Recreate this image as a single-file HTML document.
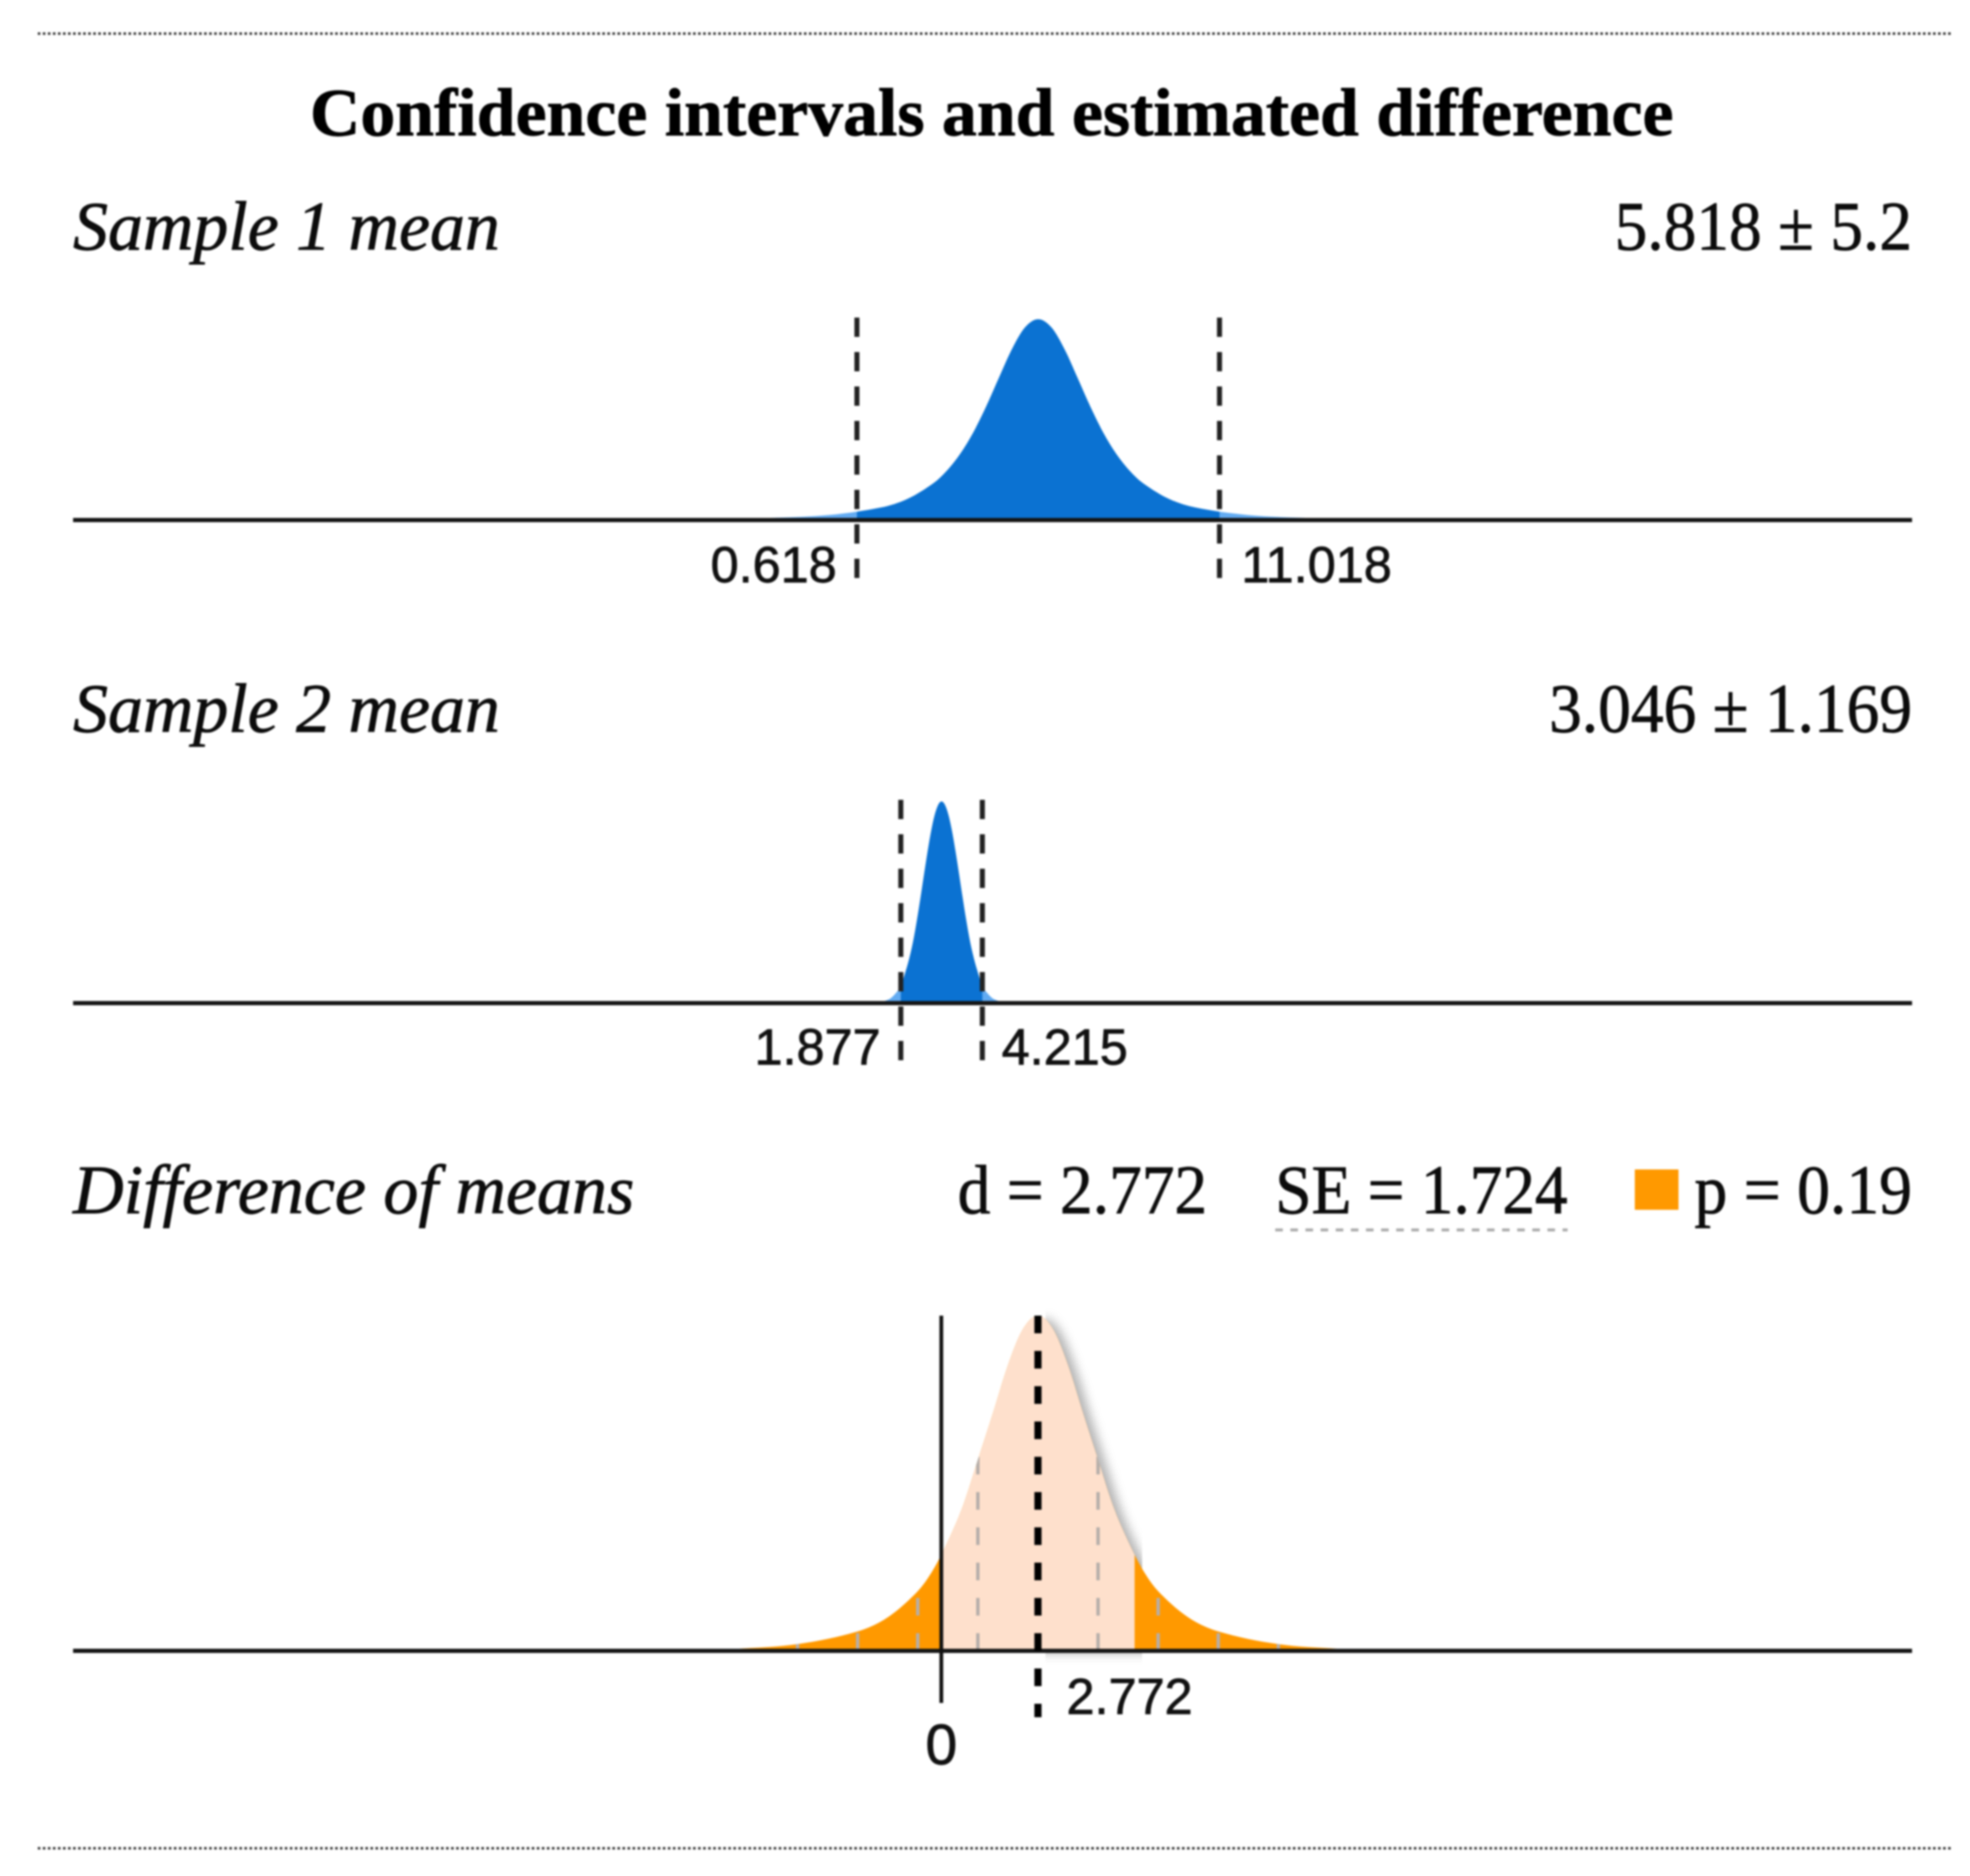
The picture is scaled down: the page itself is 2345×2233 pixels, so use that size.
<!DOCTYPE html>
<html lang="en">
<head>
<meta charset="utf-8">
<title>Confidence intervals and estimated difference</title>
<style>
html,body{margin:0;padding:0;background:#fff;width:2345px;height:2233px;overflow:hidden}
svg{display:block;filter:blur(1px)}
.serif{font-family:"Liberation Serif",serif;font-size:83px;fill:#0c0c0c;stroke:#0c0c0c;stroke-width:0.9px}
.ital{font-style:italic}
.sans{font-family:"Liberation Sans",sans-serif;font-size:60px;fill:#111;stroke:#111;stroke-width:0.9px}
</style>
</head>
<body>
<svg id="chart" xmlns="http://www.w3.org/2000/svg" width="2345" height="2233" viewBox="0 0 2345 2233">
  <defs>
    <filter id="soft-shadow" x="-20%" y="-20%" width="140%" height="140%"><feGaussianBlur stdDeviation="6"/></filter>
  </defs>
  <rect width="2345" height="2233" fill="#fff"/>
  <line x1="45" x2="2322" y1="40" y2="40" stroke="#333" stroke-width="3" stroke-dasharray="3 3"/>
  <line x1="45" x2="2322" y1="2200" y2="2200" stroke="#333" stroke-width="3" stroke-dasharray="3 3"/>

  <text class="serif" x="369" y="161" style="font-size:81px;font-weight:bold;fill:#000;stroke:#000" textLength="1623" lengthAdjust="spacingAndGlyphs">Confidence intervals and estimated difference</text>

  <text class="serif ital" x="87" y="297" textLength="508" lengthAdjust="spacingAndGlyphs">Sample 1 mean</text>
  <text class="serif" x="1922" y="297" textLength="354" lengthAdjust="spacingAndGlyphs">5.818 ± 5.2</text>

  <text class="serif ital" x="87" y="871" textLength="508" lengthAdjust="spacingAndGlyphs">Sample 2 mean</text>
  <text class="serif" x="1844" y="871" textLength="432" lengthAdjust="spacingAndGlyphs">3.046 ± 1.169</text>

  <text class="serif ital" x="87" y="1444" textLength="668" lengthAdjust="spacingAndGlyphs">Difference of means</text>
  <text class="serif" x="1140" y="1444" textLength="297" lengthAdjust="spacingAndGlyphs">d = 2.772</text>
  <text class="serif" x="1518" y="1444" textLength="348" lengthAdjust="spacingAndGlyphs">SE = 1.724</text>
  <line x1="1518" x2="1866" y1="1464" y2="1464" stroke="#aaa" stroke-width="3.5" stroke-dasharray="9 9"/>
  <rect x="1946" y="1392" width="52" height="48" fill="#ff9900"/>
  <text class="serif" x="2017" y="1444" textLength="259" lengthAdjust="spacingAndGlyphs">p = 0.19</text>

  <g id="marks"></g>
</svg>
<script>
// ----- chart data (value units; density is a fraction of each curve's peak) -----
const sample1Mean = [5.818];
const sample1Ci = [0.618, 11.018];
const sample1Labels = ['0.618', '11.018'];
const sample1Offsets = [0, 0.375, 0.75, 1.125, 1.5, 1.875, 2.25, 2.625, 3, 3.75, 4.5, 6, 7.5, 9, 10.5];
const sample1Density = [1, 0.96, 0.852, 0.709, 0.5625, 0.432, 0.3265, 0.245, 0.184, 0.105, 0.0625, 0.025, 0.0115, 0.006, 0.003];

const sample2Mean = [3.046];
const sample2Ci = [1.877, 4.215];
const sample2Labels = ['1.877', '4.215'];
const sample2Offsets = [0, 0.1, 0.2, 0.3, 0.4, 0.5, 0.6, 0.7, 0.8, 0.9, 1, 1.169, 1.3, 1.5, 1.9];
const sample2Density = [1, 0.982, 0.931, 0.852, 0.752, 0.641, 0.527, 0.418, 0.32, 0.24, 0.175, 0.085, 0.052, 0.02, 0];

const differenceMean = [2.772];
const differenceSe = [1.724];
const differenceLabels = ['2.772', '0'];
const seMultiples = [-4, -3, -2, -1, 1, 2, 3, 4];
const differenceOffsets = [0, 0.431, 0.862, 1.293, 1.724, 2.155, 2.586, 3.017, 3.448, 4.31, 5.172, 6.896, 8.62, 9.8];
const differenceDensity = [1, 0.96, 0.852, 0.709, 0.57, 0.432, 0.3265, 0.24, 0.178, 0.1, 0.058, 0.02, 0.006, 0];

// ----- axis functions -----
const PX_PER_UNIT = 41.5;
const sampleZero = 994.4;
const differenceZero = 1120.5;
const xSample = v => sampleZero + v * PX_PER_UNIT;
const xDifference = v => differenceZero + v * PX_PER_UNIT;
const yScale = (density, base, height) => base - density * height;

const NS = 'http://www.w3.org/2000/svg';
const marks = document.getElementById('marks');
const defs = document.querySelector('defs');

function make(tag, attrs, parent) {
  const el = document.createElementNS(NS, tag);
  for (const k in attrs) el.setAttribute(k, attrs[k]);
  (parent || marks).appendChild(el);
  return el;
}

function curvePoints(mean, offsets, density, xFn, base, height) {
  const pts = [];
  for (let i = offsets.length - 1; i > 0; i--) pts.push([xFn(mean - offsets[i]), yScale(density[i], base, height)]);
  for (let i = 0; i < offsets.length; i++) pts.push([xFn(mean + offsets[i]), yScale(density[i], base, height)]);
  return pts;
}

// Smooth Hermite path with slopes that respect uneven point spacing.
function curvePath(pts, base) {
  const n = pts.length;
  const slope = i => {
    const a = pts[Math.max(i - 1, 0)], b = pts[Math.min(i + 1, n - 1)];
    return (b[1] - a[1]) / (b[0] - a[0]);
  };
  let d = 'M' + pts[0][0] + ' ' + base + 'L' + pts[0][0] + ' ' + pts[0][1];
  for (let i = 0; i < n - 1; i++) {
    const p1 = pts[i], p2 = pts[i + 1], h = (p2[0] - p1[0]) / 3;
    d += 'C' + (p1[0] + h).toFixed(2) + ' ' + (p1[1] + slope(i) * h).toFixed(2) + ' ' +
      (p2[0] - h).toFixed(2) + ' ' + (p2[1] - slope(i + 1) * h).toFixed(2) + ' ' +
      p2[0].toFixed(2) + ' ' + p2[1].toFixed(2);
  }
  return d + 'L' + pts[n - 1][0] + ' ' + base + 'Z';
}

function clipRect(id, x1, x2, y1, y2) {
  const clip = make('clipPath', { id: id }, defs);
  make('rect', { x: x1, y: y1, width: Math.max(x2 - x1, 0), height: y2 - y1 }, clip);
}

function labelRow(parent, x, y, anchor) {
  return make('text', { x: x, y: y, 'text-anchor': anchor, class: 'sans' }, parent);
}

// ----- sample 1 -----
const s1Base = 619, s1Height = 239;
const s1Path = curvePath(curvePoints(sample1Mean[0], sample1Offsets, sample1Density, xSample, s1Base, s1Height), s1Base);
clipRect('s1-clip', xSample(sample1Ci[0]), xSample(sample1Ci[1]), 300, 640);

const s1Tail = make('path', { d: s1Path, fill: '#62abf2' });



const s1Area = make('path', { d: s1Path, fill: '#0b72d2', 'clip-path': 'url(#s1-clip)' });



const s1Axis = make('line', { x1: 87, x2: 2276, y1: s1Base, y2: s1Base, stroke: '#151515', 'stroke-width': 5 });



const s1Low = make('line', { x1: xSample(sample1Ci[0]), x2: xSample(sample1Ci[0]), y1: 378, y2: 692, stroke: '#222', 'stroke-width': 6, 'stroke-dasharray': '23 18' });



const s1High = make('line', { x1: xSample(sample1Ci[1]), x2: xSample(sample1Ci[1]), y1: 378, y2: 692, stroke: '#222', 'stroke-width': 6, 'stroke-dasharray': '23 18' });



const s1LowLabel = labelRow(marks, xSample(sample1Ci[0]) - 24, 693, 'end');
s1LowLabel.textContent = sample1Labels[0];



const s1HighLabel = labelRow(marks, xSample(sample1Ci[1]) + 26, 693, 'start');
s1HighLabel.textContent = sample1Labels[1];



// ----- sample 2 -----
const s2Base = 1194, s2Height = 240;
const s2Path = curvePath(curvePoints(sample2Mean[0], sample2Offsets, sample2Density, xSample, s2Base, s2Height), s2Base);
clipRect('s2-clip', xSample(sample2Ci[0]), xSample(sample2Ci[1]), 900, 1210);

const s2Tail = make('path', { d: s2Path, fill: '#62abf2' });



const s2Area = make('path', { d: s2Path, fill: '#0b72d2', 'clip-path': 'url(#s2-clip)' });



const s2Axis = make('line', { x1: 87, x2: 2276, y1: s2Base, y2: s2Base, stroke: '#151515', 'stroke-width': 5 });



const s2Low = make('line', { x1: xSample(sample2Ci[0]), x2: xSample(sample2Ci[0]), y1: 952, y2: 1266, stroke: '#222', 'stroke-width': 6, 'stroke-dasharray': '23 18' });



const s2High = make('line', { x1: xSample(sample2Ci[1]), x2: xSample(sample2Ci[1]), y1: 952, y2: 1266, stroke: '#222', 'stroke-width': 6, 'stroke-dasharray': '23 18' });



const s2LowLabel = labelRow(marks, xSample(sample2Ci[0]) - 24, 1267, 'end');
s2LowLabel.textContent = sample2Labels[0];



const s2HighLabel = labelRow(marks, xSample(sample2Ci[1]) + 23, 1267, 'start');
s2HighLabel.textContent = sample2Labels[1];



// ----- difference of means -----
const dBase = 1965, dHeight = 399;
const dMean = differenceMean[0];
const dPoints = curvePoints(dMean, differenceOffsets, differenceDensity, xDifference, dBase, dHeight);
const dPath = curvePath(dPoints, dBase);
clipRect('d-curve-clip-box', xDifference(0), xDifference(2 * dMean), 1500, 1990);
clipRect('d-shadow-clip', xDifference(dMean), xDifference(2 * dMean), 1500, 1990);
const dCurveClip = make('clipPath', { id: 'd-curve-clip' }, defs);
make('path', { d: dPath }, dCurveClip);

const dShadow = make('path', { d: dPath, fill: '#777', opacity: 0.55, transform: 'translate(9 3)', filter: 'url(#soft-shadow)', 'clip-path': 'url(#d-shadow-clip)' });



const dTail = make('path', { d: dPath, fill: '#ff9900' });



const dMid = make('path', { d: dPath, fill: '#fee0cc', 'clip-path': 'url(#d-curve-clip-box)' });



const seGroup = make('g', { 'clip-path': 'url(#d-curve-clip)' });


seMultiples.forEach(m => {
  const x = xDifference(dMean + m * differenceSe[0]);
  const gl = make('line', { x1: x, x2: x, y1: 1566, y2: dBase, stroke: '#b5aeaa', 'stroke-width': 4, 'stroke-dasharray': '21 21' }, seGroup);
  
  
});

const dAxis = make('line', { x1: 87, x2: 2276, y1: dBase, y2: dBase, stroke: '#151515', 'stroke-width': 5 });



const zeroLine = make('line', { x1: xDifference(0), x2: xDifference(0), y1: 1566, y2: 2027, stroke: '#111', 'stroke-width': 4.5 });



const dLine = make('line', { x1: xDifference(dMean), x2: xDifference(dMean), y1: 1566, y2: 2044, stroke: '#000', 'stroke-width': 8.5, 'stroke-dasharray': '21 21' });



const dLabel = labelRow(marks, xDifference(dMean) + 34, 2040, 'start');
dLabel.textContent = differenceLabels[0];



const zeroLabel = labelRow(marks, xDifference(0), 2100, 'middle');
zeroLabel.textContent = differenceLabels[1];
zeroLabel.setAttribute('style', 'font-size:68px;fill:#111');


</script>
</body>
</html>
